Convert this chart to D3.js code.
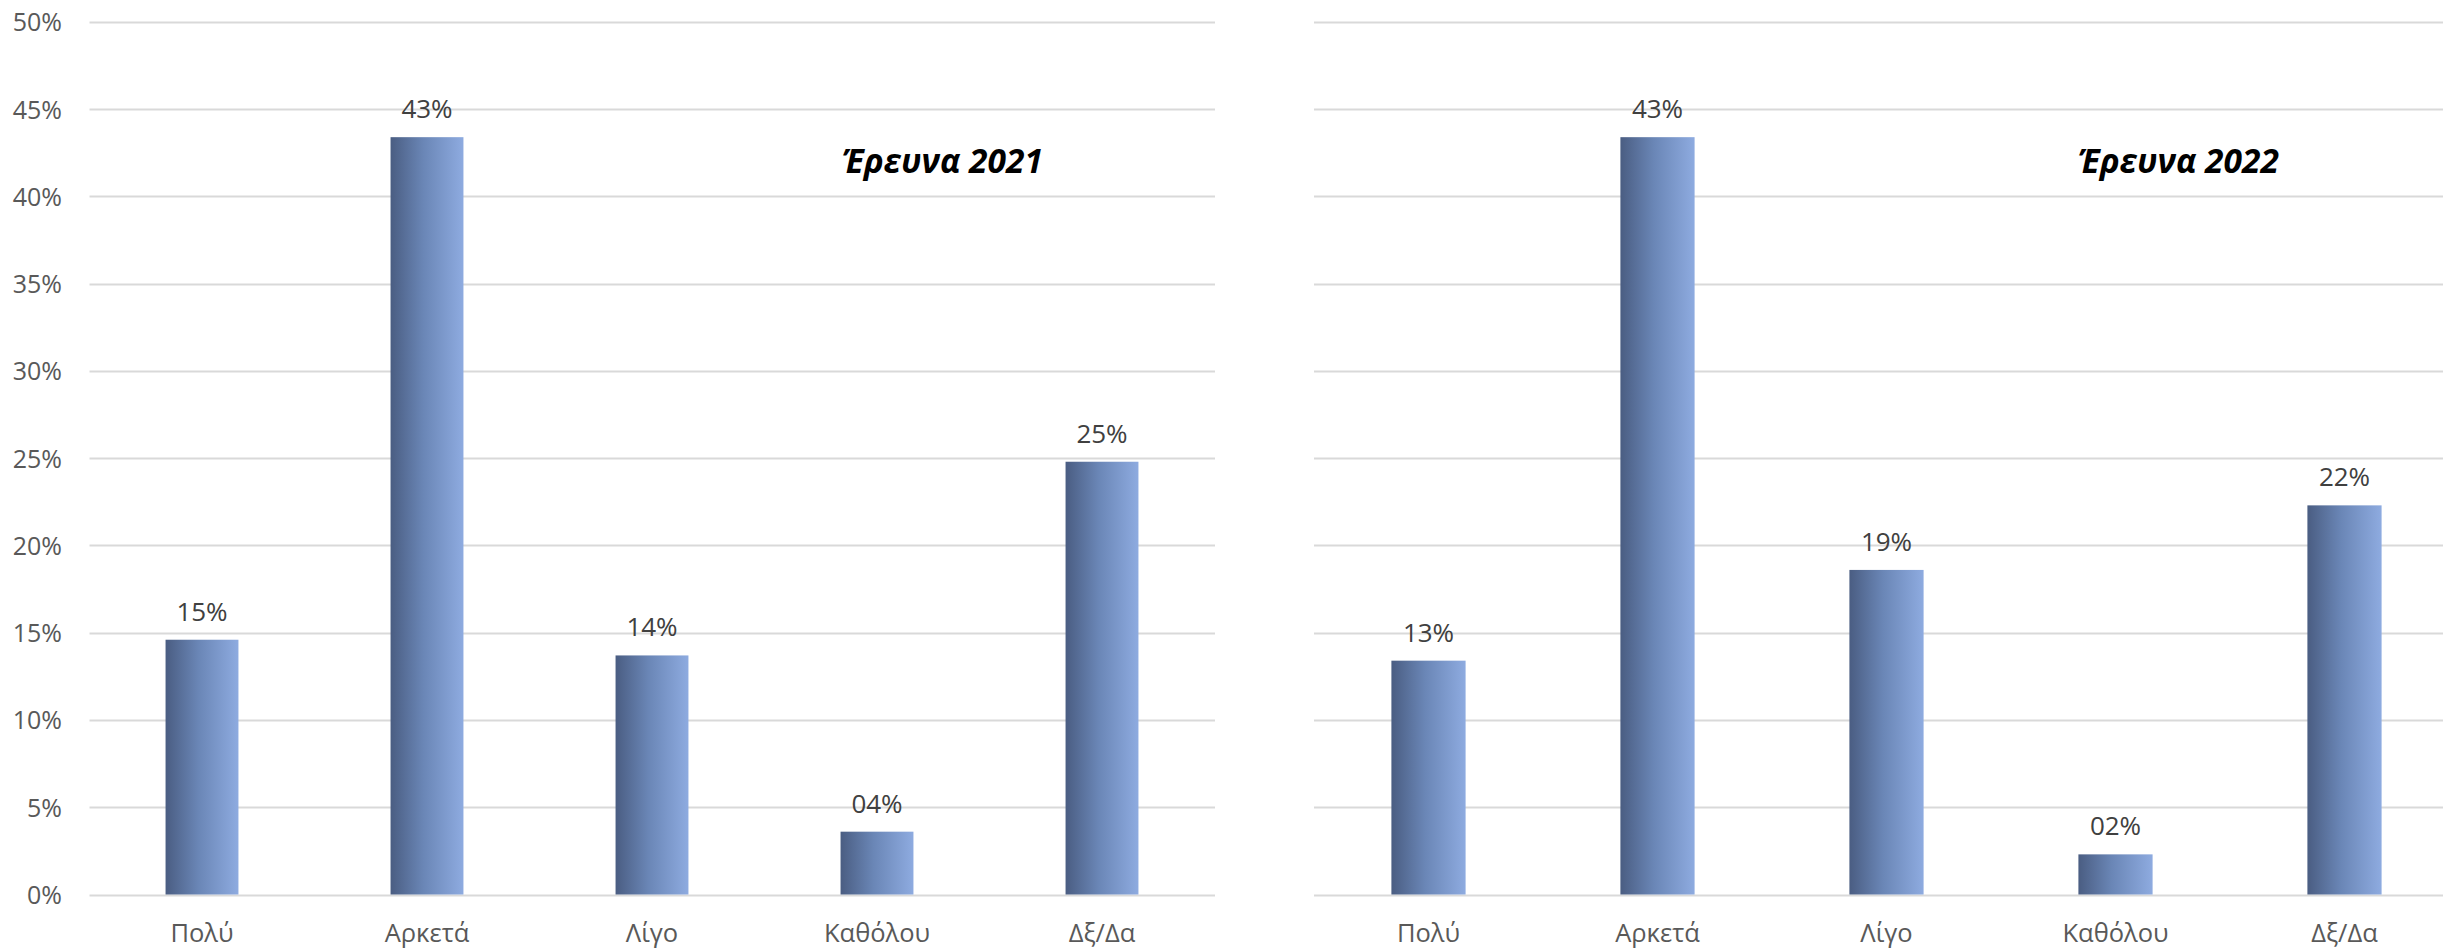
<!DOCTYPE html>
<html>
<head>
<meta charset="utf-8">
<script src="https://cdn.jsdelivr.net/npm/d3@7"></script>
<style>
  html, body { margin: 0; padding: 0; background: #ffffff; }
  svg { display: block; }
</style>
</head>
<body>
<svg id="chart" width="2443" height="948"></svg>
<script>
// ---- data ----
const categories = ["Πολύ", "Αρκετά", "Λίγο", "Καθόλου", "Δξ/Δα"];
const values2021 = [0.146, 0.434, 0.137, 0.036, 0.248];
const values2022 = [0.134, 0.434, 0.186, 0.023, 0.223];
const titles = ["Έρευνα 2021", "Έρευνα 2022"];
const yTicks = [0, 0.05, 0.10, 0.15, 0.20, 0.25, 0.30, 0.35, 0.40, 0.45, 0.50];

// ---- layout ----
const W = 2443, H = 948;
const yTop = 22, yBottom = 894.5;
const panels = [
  { values: values2021, title: titles[0], x0: 89.5, x1: 1214.5, gridEnd: 1215, titleX: 842, showAxis: true },
  { values: values2022, title: titles[1], x0: 1314, x1: 2459, gridEnd: 2443, titleX: 2078, showAxis: false }
];

const svg = d3.select("#chart");
const defs = svg.append("defs");
const grad = defs.append("linearGradient")
  .attr("id", "barGrad").attr("x1", "0%").attr("x2", "100%").attr("y1", "0%").attr("y2", "0%");
grad.append("stop").attr("offset", "0%").attr("stop-color", "#4a5d82");
grad.append("stop").attr("offset", "45%").attr("stop-color", "#6a86b6");
grad.append("stop").attr("offset", "100%").attr("stop-color", "#8eabe0");

const y = d3.scaleLinear().domain([0, 0.5]).range([yBottom, yTop]);
const fmtTick = d3.format(".0%");
const fmtLabel = v => String(Math.round(v * 100)).padStart(2, "0") + "%";
const FONT = "'Open Sans', 'Noto Sans', sans-serif";

panels.forEach(p => {
  const g = svg.append("g");
  const x = d3.scaleBand().domain(categories).range([p.x0, p.x1]).padding(0);
  const bw = x.bandwidth() * 0.324;

  // gridlines
  g.append("g").selectAll("line").data(yTicks).join("line")
    .attr("x1", p.x0).attr("x2", p.gridEnd)
    .attr("y1", d => Math.round(y(d)) + 0.5).attr("y2", d => Math.round(y(d)) + 0.5)
    .attr("stroke", "#d9d9d9").attr("stroke-width", 2);

  // y axis labels
  if (p.showAxis) {
    const yAxis = d3.axisLeft(y).tickValues(yTicks).tickFormat(fmtTick).tickSize(0).tickPadding(0);
    const ax = svg.append("g").attr("transform", "translate(62,0)").call(yAxis);
    ax.select(".domain").remove();
    ax.selectAll("text")
      .attr("fill", "#595959").attr("font-family", FONT).attr("font-size", 25)
      .attr("dy", "0.35em");
  }

  // x axis labels
  const xAxis = d3.axisBottom(x).tickSize(0).tickPadding(0);
  const xa = svg.append("g").attr("transform", `translate(0,${yBottom})`).call(xAxis);
  xa.select(".domain").remove();
  xa.selectAll("text")
    .attr("fill", "#595959").attr("font-family", FONT).attr("font-size", 25.5)
    .attr("y", 47).attr("dy", 0);

  // bars
  g.append("g").selectAll("rect").data(p.values).join("rect")
    .attr("x", (d, i) => x(categories[i]) + (x.bandwidth() - bw) / 2)
    .attr("y", d => y(d))
    .attr("width", bw)
    .attr("height", d => yBottom - y(d))
    .attr("fill", "url(#barGrad)");

  // value labels
  g.append("g").selectAll("text").data(p.values).join("text")
    .attr("x", (d, i) => x(categories[i]) + x.bandwidth() / 2)
    .attr("y", d => y(d) - 19)
    .attr("text-anchor", "middle")
    .attr("fill", "#404040").attr("font-family", FONT).attr("font-size", 26)
    .text(d => fmtLabel(d));

  // title
  svg.append("text")
    .attr("x", p.titleX).attr("y", 173)
    .attr("fill", "#000000").attr("font-family", FONT)
    .attr("font-size", 33.5).attr("font-weight", "bold").attr("font-style", "italic")
    .text(p.title);
});
</script>
</body>
</html>
